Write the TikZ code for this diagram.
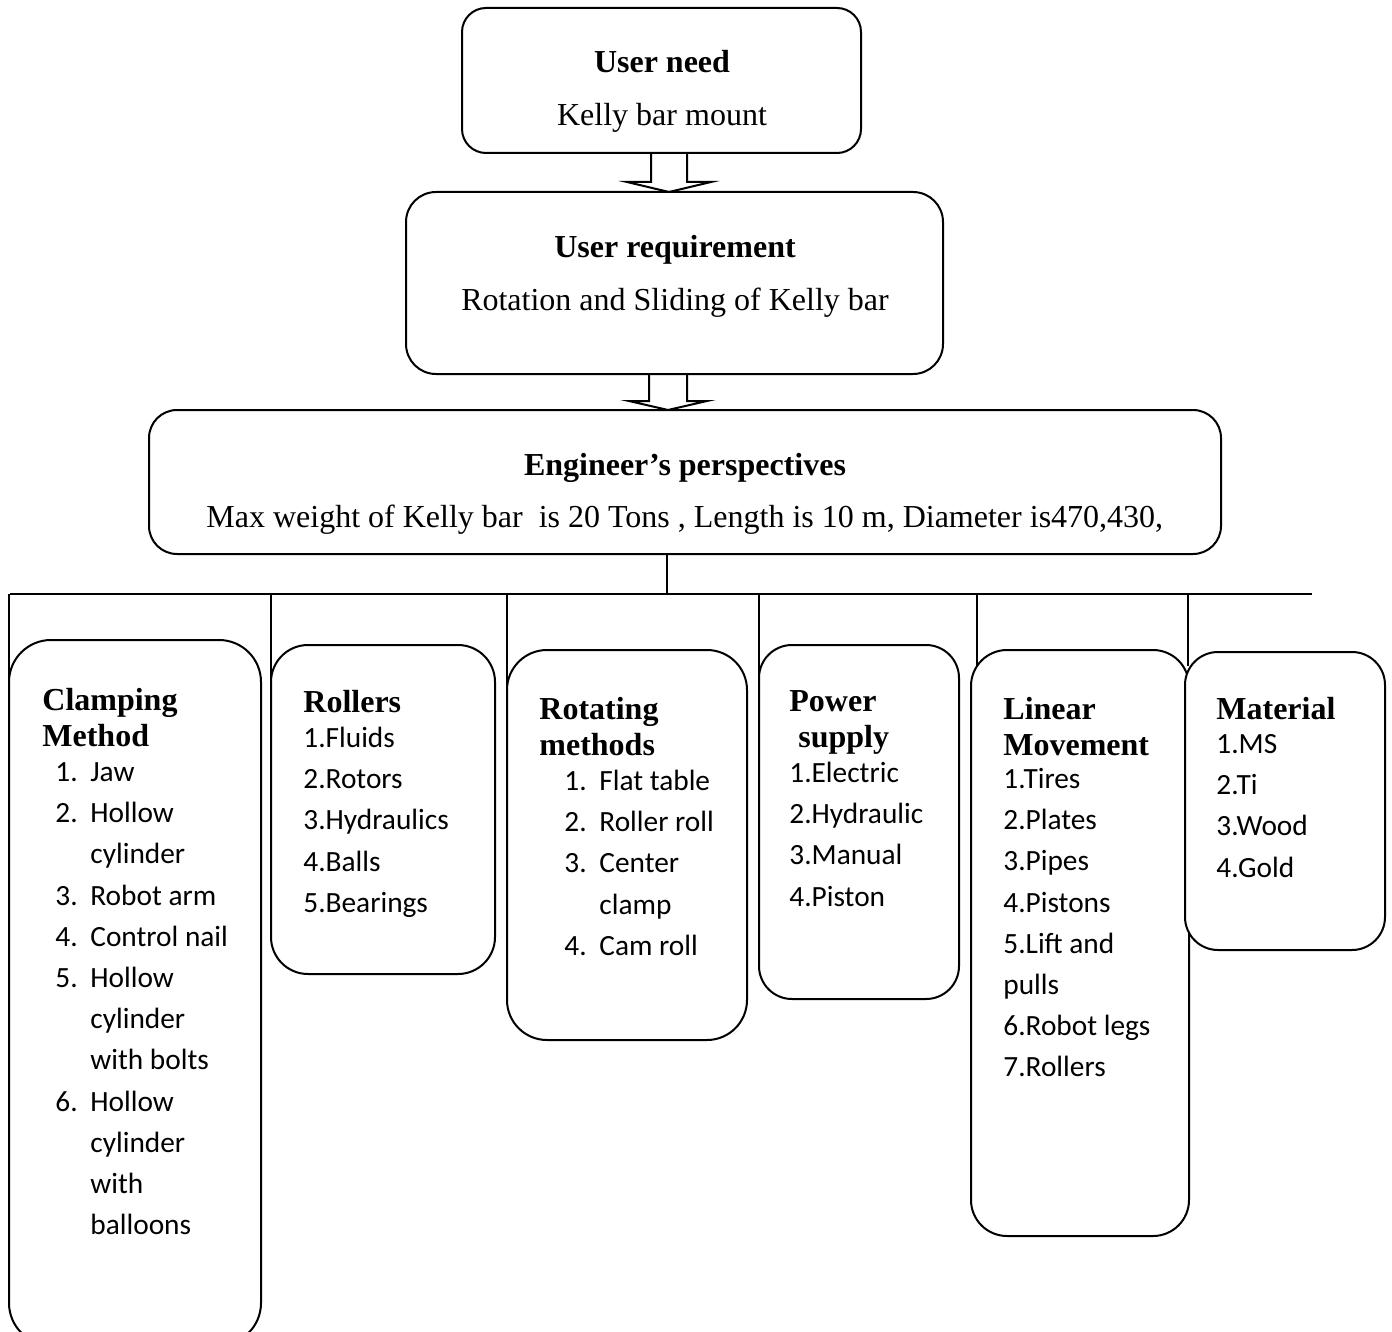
\documentclass[tikz,border=0pt]{standalone}
\usepackage{fontspec}
\setmainfont{Liberation Serif}
\newfontfamily\calfont{Carlito}
\usetikzlibrary{calc}
\newcommand\numit[1]{\makebox[17.5pt][l]{#1}}
\begin{document}
\begin{tikzpicture}[x=0.5pt,y=-0.5pt,
  box/.style={draw, line width=1pt, inner sep=0pt, outer sep=0pt, rectangle},
  ttl/.style={font=\fontsize{16}{18}\selectfont\bfseries, inner sep=0pt, anchor=base},
  txt/.style={font=\fontsize{16}{18}\selectfont, inner sep=0pt, anchor=base},
  head/.style={font=\fontsize{16}{18}\selectfont\bfseries, inner sep=0pt, anchor=base west},
  items/.style={font=\calfont\fontsize{14.67}{20.6}\selectfont, inner sep=0pt, anchor=base west},
  link/.style={line width=1pt},
  blockarrow/.style={line width=1pt, line join=miter}]
\useasboundingbox (0,0) rectangle (1392,1332);
\clip (0,0) rectangle (1392,1332);

% top boxes
\node[box, minimum width=199.5pt, minimum height=72.5pt, rounded corners=12pt] (need) at (661.5,80.5) {};
\node[box, minimum width=268.5pt, minimum height=91pt, rounded corners=15pt] (req) at (674.5,283) {};
\node[box, minimum width=536pt, minimum height=72pt, rounded corners=14pt] (eng) at (685,482) {};

% category boxes
\node[box, minimum width=126pt, minimum height=352.5pt, rounded corners=21pt] (clamp) at (135,992.5) {};
\node[box, minimum width=112pt, minimum height=164.5pt, rounded corners=18.5pt] (rol) at (383,809.5) {};
\node[box, minimum width=120pt, minimum height=195pt, rounded corners=20pt] (rot) at (627,845) {};
\node[box, minimum width=100pt, minimum height=177pt, rounded corners=16.5pt] (pow) at (859,822) {};
\node[box, minimum width=109pt, minimum height=293pt, rounded corners=18pt] (lin) at (1080,943) {};
\node[box, fill=white, minimum width=100pt, minimum height=149pt, rounded corners=16.5pt] (mat) at (1285,801) {};

% block arrows
\coordinate (ax) at (669,0);
\draw[blockarrow] ($(need.south -| ax)+(-18,0)$) -- ++(0,29) -- ++(-24,0) -- (req.north -| ax) -- ++(42,-10) -- ++(-24,0) -- ++(0,-29);
\coordinate (bx) at (668,0);
\draw[blockarrow] ($(req.south -| bx)+(-19,0)$) -- ++(0,27) -- ++(-20,0) -- (eng.north -| bx) -- ++(39,-9) -- ++(-20,0) -- ++(0,-27);

% connectors
\coordinate (hub) at (667,594);
\coordinate (hl) at (10,594);
\coordinate (hr) at (1312,594);
\draw[link] (eng.south -| hub) -- (hub);
\draw[link] (hl) -- (hr);
\draw[link] (clamp.west |- hl) -- (clamp.west);
\draw[link] (rol.west |- hl) -- (rol.west);
\draw[link] (rot.west |- hl) -- (rot.west);
\draw[link] (pow.west |- hl) -- (pow.west);
\coordinate (linc) at ($(lin.north west)+(6,17)$);
\draw[link] (linc |- hl) -- (linc);
\coordinate (matc) at ($(mat.north west)+(3,14)$);
\draw[link] (matc |- hl) -- (matc);

% texts of top boxes
\node[ttl] (t1) at (662,73) {User need};
\node[txt] (t1b) at (662,126) {Kelly bar mount};
\node[ttl] (t2) at (675,258) {User requirement};
\node[txt] (t2b) at (675,311) {Rotation and Sliding of Kelly bar};
\node[ttl] (t3) at (685,475) {Engineer’s perspectives};
\node[txt, anchor=base west] (t3b) at (206,527) {Max weight of Kelly bar\ \ is 20 Tons , Length is 10 m, Diameter is470,430,};

% clamping
\node[head] (h1) at (42,710) {\begin{tabular}[t]{@{}l@{}}Clamping\\Method\end{tabular}};
\node[items] (l1) at (55,781.5) {\begin{tabular}[t]{@{}l@{}}
\numit{1.}Jaw\\
\numit{2.}Hollow\\
\numit{}cylinder\\
\numit{3.}Robot arm\\
\numit{4.}Control nail\\
\numit{5.}Hollow\\
\numit{}cylinder\\
\numit{}with bolts\\
\numit{6.}Hollow\\
\numit{}cylinder\\
\numit{}with\\
\numit{}balloons
\end{tabular}};

% rollers
\node[head] (h2) at (303,712) {Rollers};
\node[items] (l2) at (303,747.5) {\begin{tabular}[t]{@{}l@{}}
1.Fluids\\2.Rotors\\3.Hydraulics\\4.Balls\\5.Bearings
\end{tabular}};

% rotating
\node[head] (h3) at (539,719) {\begin{tabular}[t]{@{}l@{}}Rotating\\methods\end{tabular}};
\node[items] (l3) at (564,790.5) {\begin{tabular}[t]{@{}l@{}}
\numit{1.}Flat table\\
\numit{2.}Roller roll\\
\numit{3.}Center\\
\numit{}clamp\\
\numit{4.}Cam roll
\end{tabular}};

% power
\node[head] (h4) at (789,711) {\begin{tabular}[t]{@{}l@{}}Power\\\hspace*{4.5pt}supply\end{tabular}};
\node[items] (l4) at (789,782.5) {\begin{tabular}[t]{@{}l@{}}
1.Electric\\2.Hydraulic\\3.Manual\\4.Piston
\end{tabular}};

% linear
\node[head] (h5) at (1003,719) {\begin{tabular}[t]{@{}l@{}}Linear\\Movement\end{tabular}};
\node[items] (l5) at (1003,788.5) {\begin{tabular}[t]{@{}l@{}}
1.Tires\\2.Plates\\3.Pipes\\4.Pistons\\5.Lift and\\pulls\\6.Robot legs\\7.Rollers
\end{tabular}};

% material
\node[head] (h6) at (1216,719) {Material};
\node[items] (l6) at (1216,753.5) {\begin{tabular}[t]{@{}l@{}}
1.MS\\2.Ti\\3.Wood\\4.Gold
\end{tabular}};
\end{tikzpicture}
\end{document}
